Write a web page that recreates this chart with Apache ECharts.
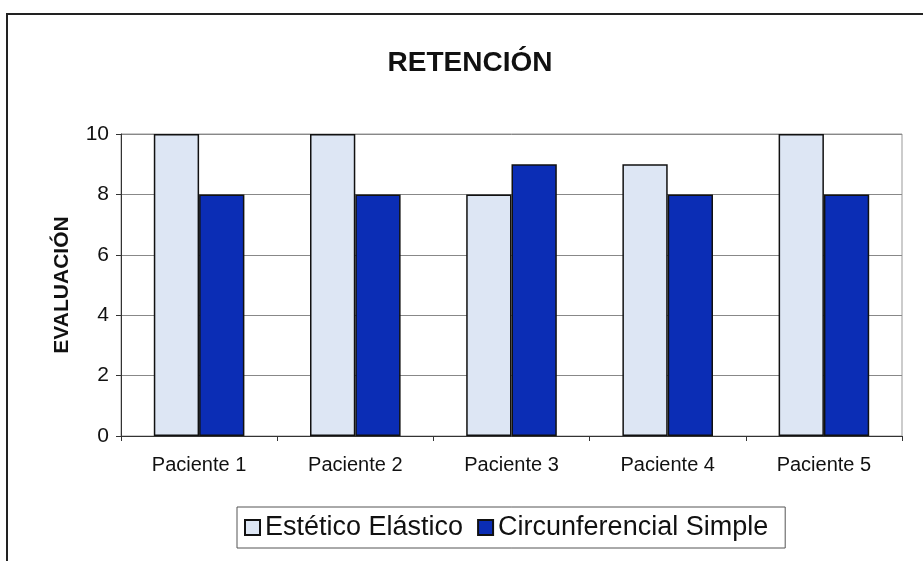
<!DOCTYPE html>
<html>
<head>
<meta charset="utf-8">
<style>
  html, body { margin: 0; padding: 0; background: #fff; }
  #chart { width: 923px; height: 561px; }
</style>
<script src="https://cdn.jsdelivr.net/npm/echarts@6/dist/echarts.min.js"></script>
</head>
<body>
<div id="chart"></div>
<script>
  // datos
  var pacientes = ['Paciente 1', 'Paciente 2', 'Paciente 3', 'Paciente 4', 'Paciente 5']
  var esteticoElastico = [10, 10, 8, 9, 10]
  var circunferencialSimple = [8, 8, 9, 8, 8]

  var chart = echarts.init(document.getElementById('chart'))
  var font = 'Liberation Sans, Arial, sans-serif'

  var option = {
    animation: false,
    backgroundColor: '#fff',
    title: {
      text: 'RETENCIÓN',
      left: 465,
      top: 44,
      textAlign: 'center',
      textStyle: { fontFamily: font, fontSize: 28, fontWeight: 'bold', color: '#111' }
    },
    graphic: [
      {
        // marco exterior del gráfico
        type: 'rect',
        shape: { x: 7, y: 14, width: 930, height: 560 },
        style: { fill: 'none', stroke: '#222', lineWidth: 2 }
      },
      {
        // borde del área de trazado
        type: 'rect',
        shape: { x: 121, y: 134, width: 781, height: 302 },
        style: { fill: 'none', stroke: '#999', lineWidth: 1 }
      }
    ],
    legend: {
      data: ['Estético Elástico', 'Circunferencial Simple'],
      left: 237,
      top: 507,
      width: 700,
      orient: 'horizontal',
      padding: [7, 17, 7, 7],
      borderColor: '#555',
      borderWidth: 1,
      itemWidth: 15,
      itemHeight: 15,
      itemGap: 14,
      icon: 'rect',
      textStyle: { fontFamily: font, fontSize: 27, color: '#111' }
    },
    grid: { left: 121, right: 21, top: 134, bottom: 125 },
    xAxis: {
      type: 'category',
      data: pacientes,
      axisLine: { lineStyle: { color: '#333', width: 1 } },
      axisTick: { show: true, inside: false, length: 5, lineStyle: { color: '#333' } },
      axisLabel: { fontFamily: font, fontSize: 20, color: '#111', margin: 19 },
      splitLine: { show: false }
    },
    yAxis: {
      type: 'value',
      min: 0,
      max: 10,
      interval: 2,
      name: 'EVALUACIÓN',
      nameLocation: 'middle',
      nameGap: 48,
      nameTextStyle: { fontFamily: font, fontSize: 21, fontWeight: 'bold', color: '#111' },
      axisLine: { show: true, lineStyle: { color: '#333', width: 1 } },
      axisTick: { show: true, length: 5, lineStyle: { color: '#333' } },
      axisLabel: { fontFamily: font, fontSize: 21, color: '#111', margin: 12 },
      splitLine: { show: true, lineStyle: { color: '#888', width: 1 } }
    },
    series: [
      {
        name: 'Estético Elástico',
        type: 'bar',
        data: esteticoElastico,
        barGap: '0%',
        barCategoryGap: '42%',
        itemStyle: { color: '#dde6f4', borderColor: '#111', borderWidth: 1.5 }
      },
      {
        name: 'Circunferencial Simple',
        type: 'bar',
        data: circunferencialSimple,
        itemStyle: { color: '#0b2db5', borderColor: '#111', borderWidth: 1.5 }
      }
    ]
  }

  chart.setOption(option)
</script>
</body>
</html>
